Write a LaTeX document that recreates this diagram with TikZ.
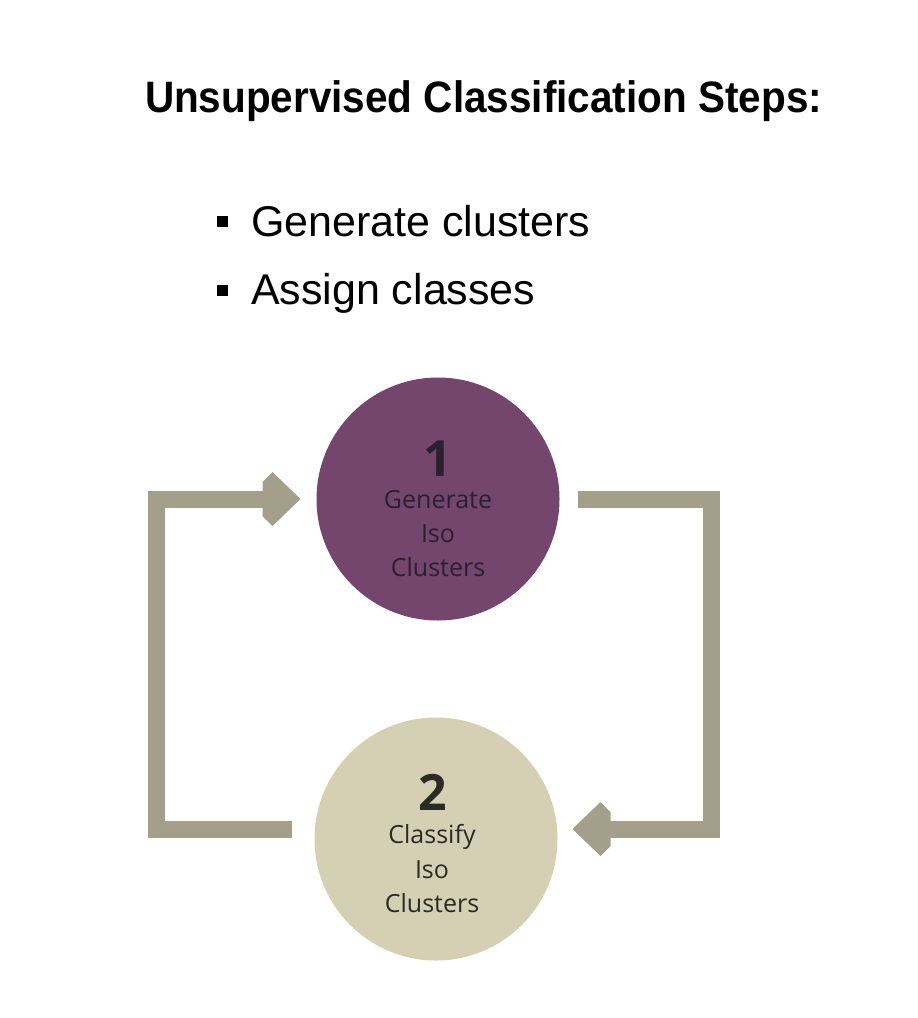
\documentclass[tikz,border=0pt]{standalone}
\usepackage{fontspec}
\usepackage{graphicx}
\setmainfont{Liberation Sans}
\newfontfamily\circfont{Open Sans}
\usetikzlibrary{arrows.meta}
\definecolor{barcol}{HTML}{A39F8A}
\definecolor{purp}{HTML}{74466E}
\definecolor{beige}{HTML}{D5CFB3}
\definecolor{inkone}{HTML}{2A2030}
\definecolor{inktwo}{HTML}{2B2A25}
\pgfdeclarearrow{
  name = ChevHead,
  setup code = {
    \pgfarrowssettipend{0pt}
    \pgfarrowssetbackend{-38pt}
    \pgfarrowssetlineend{-30pt}
    \pgfarrowssetvisualbackend{-38pt}
    \pgfarrowsupperhullpoint{0pt}{0pt}
    \pgfarrowsupperhullpoint{-28pt}{27pt}
    \pgfarrowsupperhullpoint{-38pt}{17pt}
  },
  drawing code = {
    \pgfsetfillcolor{barcol}
    \pgfpathmoveto{\pgfpoint{0pt}{0pt}}
    \pgfpathlineto{\pgfpoint{-28pt}{27pt}}
    \pgfpathlineto{\pgfpoint{-38pt}{17pt}}
    \pgfpathlineto{\pgfpoint{-38pt}{-17pt}}
    \pgfpathlineto{\pgfpoint{-28pt}{-27pt}}
    \pgfpathclose
    \pgfusepathqfill
  },
  defaults = {}
}
\begin{document}
\begin{tikzpicture}[x=1pt,y=-1pt,
  every node/.style={inner sep=0pt, outer sep=0pt},
  titletext/.style={font=\fontsize{44}{50}\selectfont\bfseries, anchor=base west},
  bullettext/.style={font=\fontsize{43}{50}\selectfont, anchor=base west},
  bulletmark/.style={fill=black, minimum size=11pt},
  stepcirc/.style={circle, minimum size=243pt},
  bignum/.style={font=\circfont\fontsize{50}{50}\selectfont\bfseries, anchor=base},
  steptext/.style={font=\circfont\fontsize{25}{30}\selectfont, anchor=base},
  loopbar/.style={draw=barcol, line width=17pt, line join=miter, -ChevHead}
]
\fill[white] (0,0) rectangle (918,1018);
\useasboundingbox (0,0) rectangle (918,1018);

\node[titletext] (title) at (145,112) {\scalebox{0.92}[1]{Unsupervised Classification Steps:}};

\node[bulletmark] (b1) at (222.5,221.5) {};
\node[bullettext] (l1) at (251,236) {Generate clusters};
\node[bulletmark] (b2) at (222.5,290.5) {};
\node[bullettext] (l2) at (251,304) {Assign classes};

\node[stepcirc, fill=purp] (c1) at (438,499) {};
\node[stepcirc, fill=beige] (c2) at (436,839) {};

\node[bignum, text=inkone] (c1n) at (438,476) {1};
\node[steptext, text=inkone] (c1a) at (438,508) {Generate};
\node[steptext, text=inkone] (c1b) at (438,542) {Iso};
\node[steptext, text=inkone] (c1c) at (438,576) {Clusters};

\node[bignum, text=inktwo] (c2n) at (433,810) {2};
\node[steptext, text=inktwo] (c2a) at (432,843) {Classify};
\node[steptext, text=inktwo] (c2b) at (432,878) {Iso};
\node[steptext, text=inktwo] (c2c) at (432,912) {Clusters};

\coordinate (r0) at ([xshift=18pt]c1.east);
\coordinate (rtip) at ([xshift=15pt,yshift=10pt]c2.east);
\coordinate (l0) at ([xshift=-23pt,yshift=10pt]c2.west);
\coordinate (ltip) at ([xshift=-16pt]c1.west);

\draw[loopbar] (r0) -- ++(133.5,0) |- (rtip);
\draw[loopbar] (l0) -- ++(-135,0) |- (ltip);
\end{tikzpicture}
\end{document}
